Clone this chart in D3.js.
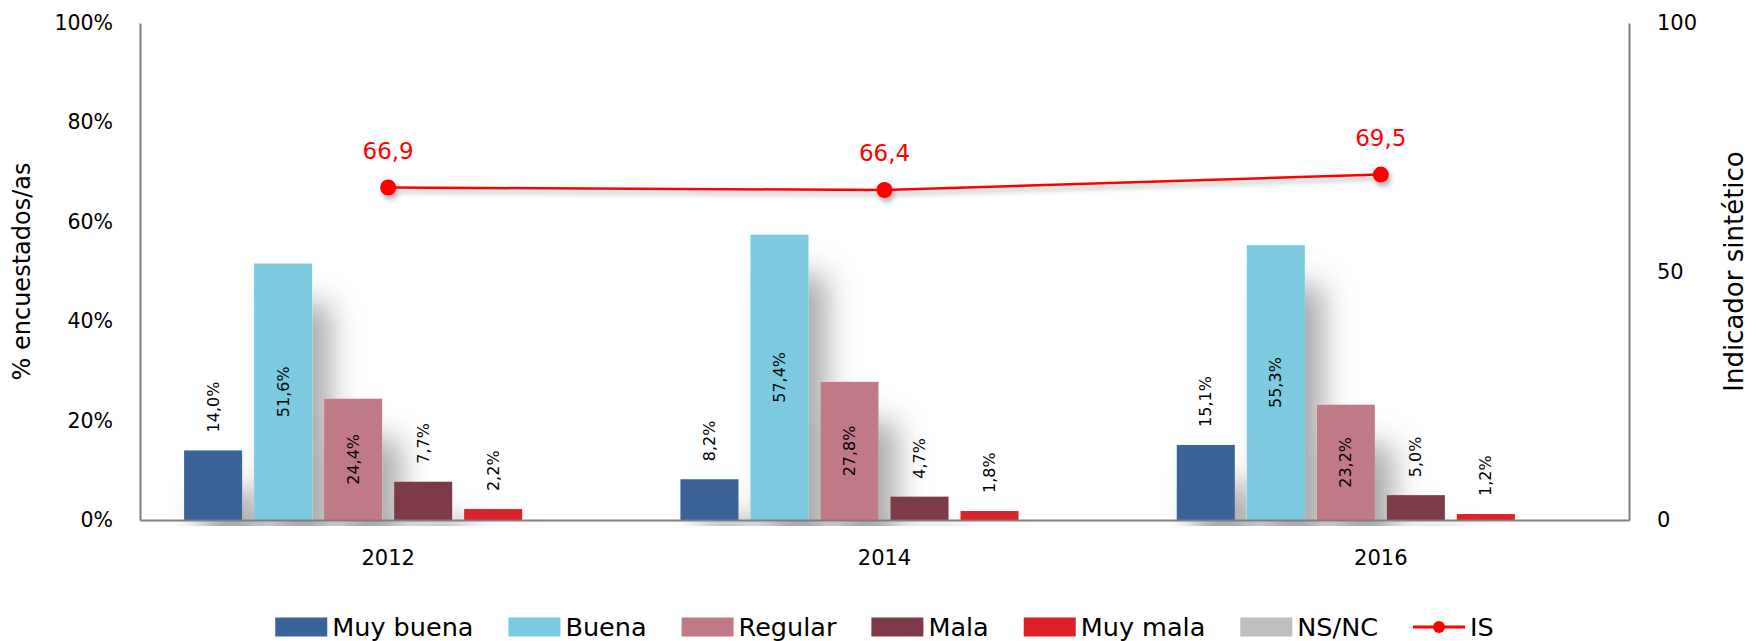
<!DOCTYPE html>
<html>
<head>
<meta charset="utf-8">
<script src="https://cdn.jsdelivr.net/npm/d3@7"></script>
<style>
  body { margin: 0; background: #fff; }
  svg { display: block; font-family: "DejaVu Sans", sans-serif; }
</style>
</head>
<body>
<div id="chart"></div>
<script>
// valoración por año (% encuestados/as) + indicador sintético
const years = ['2012', '2014', '2016'];
const categories = ['Muy buena', 'Buena', 'Regular', 'Mala', 'Muy mala', 'NS/NC'];
const muyBuena = [14.0, 8.2, 15.1];
const buena = [51.6, 57.4, 55.3];
const regular = [24.4, 27.8, 23.2];
const mala = [7.7, 4.7, 5.0];
const muyMala = [2.2, 1.8, 1.2];
const nsnc = [null, null, null];
const isValues = [66.9, 66.4, 69.5];
const leftTicks = [0, 20, 40, 60, 80, 100];
const rightTicks = [0, 50, 100];

const seriesValues = {
    'Muy buena': muyBuena, 'Buena': buena, 'Regular': regular,
    'Mala': mala, 'Muy mala': muyMala, 'NS/NC': nsnc
};
const colors = {
    'Muy buena': '#3a639a', 'Buena': '#7bcbe0', 'Regular': '#c07a87',
    'Mala': '#7d3b4a', 'Muy mala': '#dc2029', 'NS/NC': '#bfbfbf'
};
const lineColor = '#ff0000';
const axisColor = '#7f7f7f';

const W = 1756, H = 641;
const m = { top: 23, right: 127, bottom: 121, left: 140 };
const plotW = W - m.left - m.right;
const plotH = H - m.top - m.bottom;

const svg = d3.select('#chart').append('svg')
    .attr('width', W).attr('height', H);

const defs = svg.append('defs');
const barShadow = defs.append('filter').attr('id', 'barShadow')
    .attr('x', '-10%').attr('y', '-30%').attr('width', '130%').attr('height', '180%');
barShadow.append('feDropShadow')
    .attr('dx', 18).attr('dy', 40).attr('stdDeviation', 15)
    .attr('flood-color', '#000').attr('flood-opacity', 0.34);
const lineShadow = defs.append('filter').attr('id', 'lineShadow')
    .attr('x', '-10%').attr('y', '-50%').attr('width', '120%').attr('height', '250%');
lineShadow.append('feDropShadow')
    .attr('dx', 2).attr('dy', 4).attr('stdDeviation', 2.5)
    .attr('flood-color', '#000').attr('flood-opacity', 0.3);
defs.append('clipPath').attr('id', 'plotClip')
    .append('rect').attr('x', 0).attr('y', -m.top).attr('width', plotW).attr('height', plotH + m.top + 6);

const g = svg.append('g').attr('transform', `translate(${m.left},${m.top})`);

// ── Scales ──
const x0 = d3.scaleBand().domain(years).range([0, plotW]).padding(0);
const x1 = d3.scaleBand().domain(categories).range([0, x0.bandwidth()])
    .paddingInner(0.171).paddingOuter(0.63);
const y = d3.scaleLinear().domain([0, 100]).range([plotH, 0]);
const y2 = d3.scaleLinear().domain([0, 100]).range([plotH, 0]);

const fmt = v => v.toFixed(1).replace('.', ',');

// Bars
const bars = [];
years.forEach((yr, i) => {
    categories.forEach(cat => {
        const v = seriesValues[cat][i];
        if (v == null) return;
        bars.push({ yr, cat, v });
    });
});

const barsG = g.append('g')
    .attr('clip-path', 'url(#plotClip)')
    .attr('filter', 'url(#barShadow)');
barsG.selectAll('rect').data(bars).join('rect')
    .attr('x', d => x0(d.yr) + x1(d.cat))
    .attr('y', d => y(d.v))
    .attr('width', x1.bandwidth())
    .attr('height', d => y(0) - y(d.v))
    .attr('fill', d => colors[d.cat]);

// Axes
const styleAxis = sel => {
    sel.select('.domain').attr('stroke', axisColor).attr('stroke-width', 2);
    sel.selectAll('text').attr('fill', '#000').attr('font-family', '"DejaVu Sans", sans-serif');
};

g.append('g')
    .call(d3.axisLeft(y).tickValues(leftTicks).tickSize(0).tickSizeOuter(0).tickPadding(27)
        .tickFormat(d => d + '%'))
    .call(styleAxis)
    .selectAll('text').attr('font-size', 20.5);

g.append('g')
    .attr('transform', `translate(${plotW},0)`)
    .call(d3.axisRight(y2).tickValues(rightTicks).tickSize(0).tickSizeOuter(0).tickPadding(28))
    .call(styleAxis)
    .selectAll('text').attr('font-size', 21);

g.append('g')
    .attr('transform', `translate(0,${plotH})`)
    .call(d3.axisBottom(x0).tickSize(0).tickSizeOuter(0).tickPadding(30))
    .call(styleAxis)
    .selectAll('text').attr('font-size', 21);

// Axis titles
svg.append('text')
    .attr('transform', `translate(22,${m.top + plotH / 2}) rotate(-90)`)
    .attr('text-anchor', 'middle').attr('dominant-baseline', 'central')
    .attr('font-size', 24).text('% encuestados/as');
svg.append('text')
    .attr('transform', `translate(1734,${m.top + plotH / 2}) rotate(-90)`)
    .attr('text-anchor', 'middle').attr('dominant-baseline', 'central')
    .attr('font-size', 26).text('Indicador sintético');

// Bar value labels (rotated)
g.selectAll('.bar-label').data(bars).join('text')
    .attr('class', 'bar-label')
    .attr('transform', d => {
        const cx = x0(d.yr) + x1(d.cat) + x1.bandwidth() / 2;
        const cy = d.v > 20 ? (y(d.v) + y(0)) / 2 : y(d.v) - 18;
        return `translate(${cx},${cy}) rotate(-90)`;
    })
    .attr('text-anchor', d => d.v > 20 ? 'middle' : 'start')
    .attr('dominant-baseline', 'central')
    .attr('font-size', 16)
    .attr('fill', '#000')
    .text(d => fmt(d.v) + '%');

// IS line
const linePts = years.map((yr, i) => ({ yr, v: isValues[i] }));
const lineG = g.append('g').attr('filter', 'url(#lineShadow)');
lineG.append('path')
    .datum(linePts)
    .attr('fill', 'none')
    .attr('stroke', lineColor)
    .attr('stroke-width', 2.5)
    .attr('d', d3.line().x(d => x0(d.yr) + x0.bandwidth() / 2).y(d => y2(d.v)));
lineG.selectAll('circle').data(linePts).join('circle')
    .attr('cx', d => x0(d.yr) + x0.bandwidth() / 2)
    .attr('cy', d => y2(d.v))
    .attr('r', 8)
    .attr('fill', lineColor);

g.selectAll('.is-label').data(linePts).join('text')
    .attr('class', 'is-label')
    .attr('x', d => x0(d.yr) + x0.bandwidth() / 2)
    .attr('y', d => y2(d.v) - 37)
    .attr('text-anchor', 'middle').attr('dominant-baseline', 'central')
    .attr('font-size', 23).attr('fill', lineColor)
    .text(d => fmt(d.v));

// Legend
const legendItems = categories.map(c => ({ key: c, type: 'rect' }))
    .concat([{ key: 'IS', type: 'line' }]);
const legend = svg.append('g');
const swW = 52, swH = 19, txtGap = 5, itemGap = 35, legY = 627;
let lx = 0;
legendItems.forEach(it => {
    const ig = legend.append('g').attr('transform', `translate(${lx},0)`);
    if (it.type === 'rect') {
        ig.append('rect').attr('x', 0).attr('y', legY - swH / 2)
            .attr('width', swW).attr('height', swH).attr('fill', colors[it.key]);
    } else {
        ig.append('line').attr('x1', 0).attr('x2', swW).attr('y1', legY).attr('y2', legY)
            .attr('stroke', lineColor).attr('stroke-width', 3);
        ig.append('circle').attr('cx', swW / 2).attr('cy', legY).attr('r', 6).attr('fill', lineColor);
    }
    const t = ig.append('text').attr('x', swW + txtGap).attr('y', legY)
        .attr('dominant-baseline', 'central').attr('font-size', 25.5).attr('fill', '#000')
        .text(it.key);
    lx += swW + txtGap + t.node().getComputedTextLength() + itemGap;
});
const legW = lx - itemGap;
legend.attr('transform', `translate(${m.left + plotW / 2 - legW / 2},0)`);
</script>
</body>
</html>
